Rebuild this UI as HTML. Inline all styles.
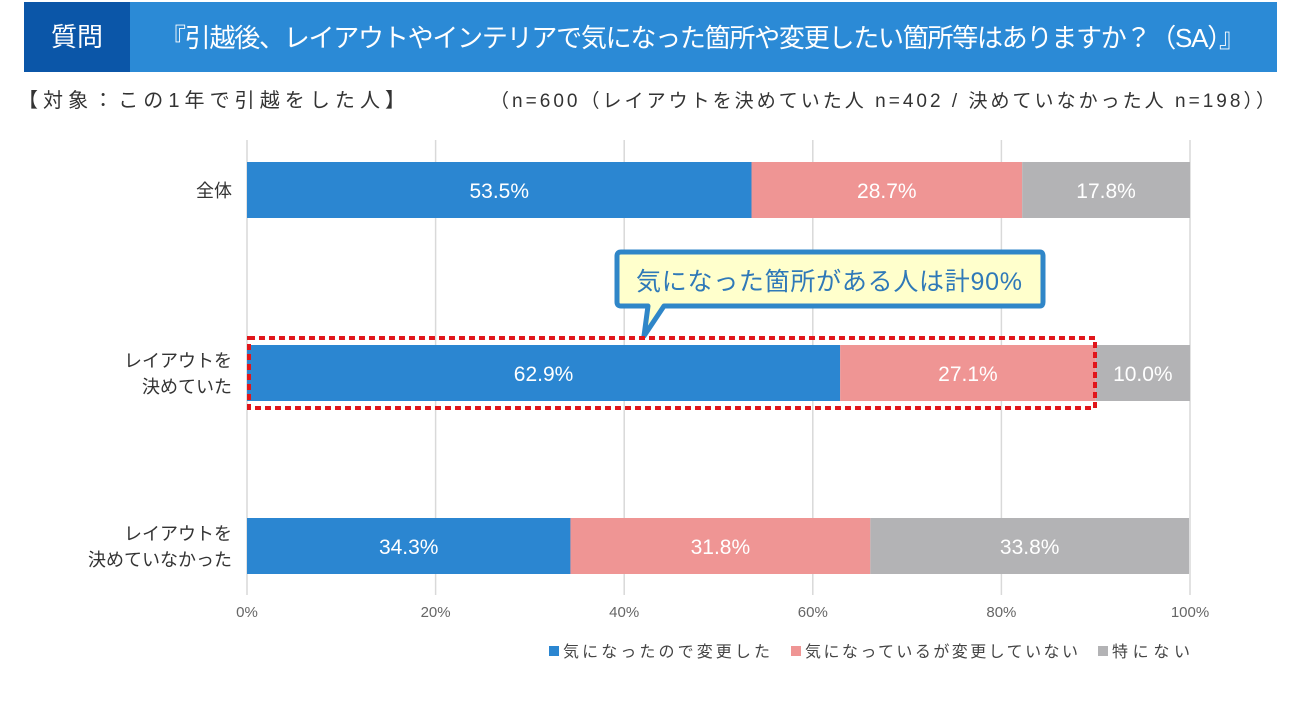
<!DOCTYPE html>
<html><head><meta charset="utf-8"><style>
body{margin:0;width:1308px;height:699px;background:#fff;overflow:hidden;font-family:"Liberation Sans","Noto Sans CJK JP",sans-serif;}
svg text{font-family:"Liberation Sans","Noto Sans CJK JP",sans-serif;}
</style></head><body>
<svg width="1308" height="699">
<g>
<rect x="24" y="2" width="1253" height="70" fill="#2b8ad6"/>
<rect x="24" y="2" width="106" height="70" fill="#0b56a8"/>
<text x="77" y="46" fill="#fff" font-size="26" text-anchor="middle">質問</text>
<text x="160" y="47" fill="#fff" font-size="26" textLength="1085">『引越後、レイアウトやインテリアで気になった箇所や変更したい箇所等はありますか？（SA）』</text>
</g>
<text x="18" y="107" fill="#333" font-size="20" textLength="387">【対象：この1年で引越をした人】</text>
<text x="490" y="107" fill="#333" font-size="19" textLength="785">（n=600（レイアウトを決めていた人 n=402 / 決めていなかった人 n=198））</text>
<g id="grid"></g>
<g id="bars"></g>
<g id="labels"></g>
<g>
<path d="M621,252 H1040 Q1043,252 1043,256 V302 Q1043,306 1040,306 H664 L644,336 L648,306 H621 Q617,306 617,302 V256 Q617,252 621,252 Z" fill="#ffffcc" stroke="#2f86c8" stroke-width="5" stroke-linejoin="round"/>
<text x="636" y="290" fill="#2f79b8" font-size="25" textLength="386">気になった箇所がある人は計90%</text>
</g>
<rect x="249" y="338" width="846" height="70" fill="none" stroke="#e0161b" stroke-width="4" stroke-dasharray="6,4"/>
<g>
<rect x="549" y="646" width="10" height="10" fill="#2b86d1"/>
<text x="563" y="657" font-size="16" fill="#444" textLength="207">気になったので変更した</text>
<rect x="791" y="646" width="10" height="10" fill="#ef9594"/>
<text x="805" y="657" font-size="16" fill="#444" textLength="273">気になっているが変更していない</text>
<rect x="1098" y="646" width="10" height="10" fill="#b3b3b5"/>
<text x="1112" y="657" font-size="16" fill="#444" textLength="78">特にない</text>
</g>
</svg>
<script>
const categories=[["全体"],["レイアウトを","決めていた"],["レイアウトを","決めていなかった"]];
const changed=[53.5,62.9,34.3];
const notChanged=[28.7,27.1,31.8];
const none=[17.8,10.0,33.8];
const ticks=[0,20,40,60,80,100];
const NS="http://www.w3.org/2000/svg";
const x0=247,x1=1190;
const xs=v=>x0+(x1-x0)*v/100;
const rowY=[162,345,518],barH=56;
const colors=["#2b86d1","#ef9594","#b3b3b5"];
const names=["changed","not-changed","none"];
function mk(tag,attrs,parent){const e=document.createElementNS(NS,tag);for(const k in attrs)e.setAttribute(k,attrs[k]);parent.appendChild(e);return e;}
const grid=document.getElementById('grid'),bars=document.getElementById('bars'),labels=document.getElementById('labels');
ticks.forEach(t=>{
 const l=mk('line',{x1:xs(t),x2:xs(t),y1:140,y2:595,stroke:'#d9d9d9','stroke-width':1.5},grid);
 
 
 const tx=mk('text',{x:xs(t),y:617,'font-size':15,fill:'#666','text-anchor':'middle'},grid);
 tx.textContent=t+'%';
 
 
});
categories.forEach((c,i)=>{
 const vals=[changed[i],notChanged[i],none[i]];
 let acc=0;
 vals.forEach((v,j)=>{
  const r=mk('rect',{x:xs(acc),y:rowY[i],width:xs(acc+v)-xs(acc),height:barH,fill:colors[j]},bars);
  
  
  const t=mk('text',{x:(xs(acc)+xs(acc+v))/2,y:rowY[i]+barH/2+8,'font-size':21,fill:'#fff','text-anchor':'middle'},labels);
  t.textContent=v.toFixed(1)+'%';
  
  
  acc+=v;
 });
 const n=c.length;
 c.forEach((line,k)=>{
  const t=mk('text',{x:232,y:rowY[i]+barH/2+7+(k-(n-1)/2)*26,'font-size':18,fill:'#333','text-anchor':'end'},labels);
  t.textContent=line;
  
  
 });
});
</script>
</body></html>
